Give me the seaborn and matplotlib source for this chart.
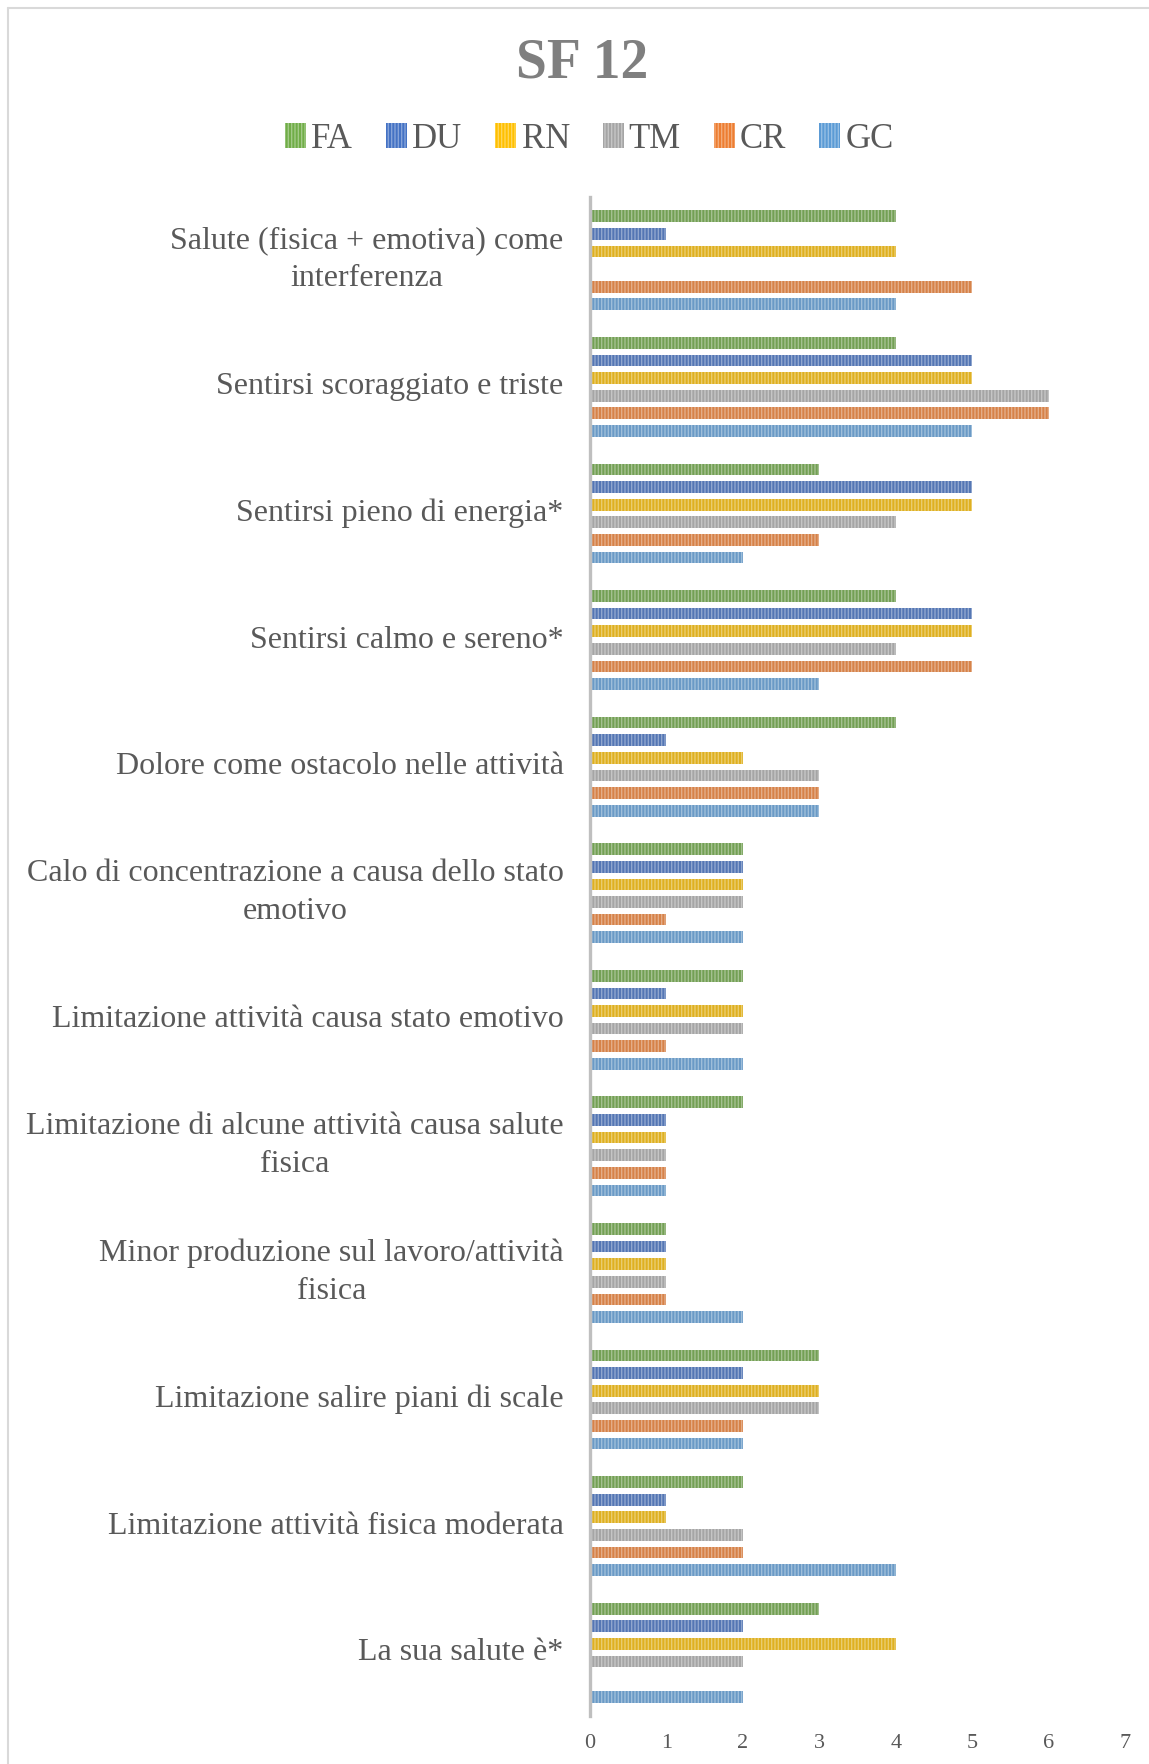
import matplotlib
matplotlib.use("Agg")
import matplotlib.pyplot as plt
import matplotlib.colors as mcolors
import matplotlib.transforms as mtransforms
from matplotlib.patches import Patch
from matplotlib.lines import Line2D
import seaborn as sns
import pandas as pd

categories = [
    "Salute (fisica + emotiva) come\ninterferenza",
    "Sentirsi scoraggiato e triste",
    "Sentirsi pieno di energia*",
    "Sentirsi calmo e sereno*",
    "Dolore come ostacolo nelle attività",
    "Calo di concentrazione a causa dello stato\nemotivo",
    "Limitazione attività causa stato emotivo",
    "Limitazione di alcune attività causa salute\nfisica",
    "Minor produzione sul lavoro/attività\nfisica",
    "Limitazione salire piani di scale",
    "Limitazione attività fisica moderata",
    "La sua salute è*",
]
series = ["FA", "DU", "RN", "TM", "CR", "GC"]
FA = [4, 4, 3, 4, 4, 2, 2, 2, 1, 3, 2, 3]
DU = [1, 5, 5, 5, 1, 2, 1, 1, 1, 2, 1, 2]
RN = [4, 5, 5, 5, 2, 2, 2, 1, 1, 3, 1, 4]
TM = [0, 6, 4, 4, 3, 2, 2, 1, 1, 3, 2, 2]
CR = [5, 6, 3, 5, 3, 1, 1, 1, 1, 2, 2, 0]
GC = [4, 5, 2, 3, 3, 2, 2, 1, 2, 2, 4, 2]
xticks = [0, 1, 2, 3, 4, 5, 6, 7]

colors = ["#70AD47", "#4472C4", "#FFC000", "#A5A5A5", "#ED7D31", "#5B9BD5"]
text_color = "#595959"

rows = []
for s, vals in zip(series, [FA, DU, RN, TM, CR, GC]):
    for c, v in zip(categories, vals):
        rows.append({"cat": c, "series": s, "val": v})
df = pd.DataFrame(rows)

sns.set_style("white")
plt.rcParams["font.family"] = ["Liberation Serif", "DejaVu Serif"]
plt.rcParams["hatch.linewidth"] = 1.0

fig = plt.figure(figsize=(11.49, 17.64), dpi=100)
ax = fig.add_axes([590 / 1149, 1 - 1716 / 1764, (1125 - 590) / 1149, (1716 - 197) / 1764])

sns.barplot(data=df, y="cat", x="val", hue="series", orient="h",
            order=categories, hue_order=series, palette=colors,
            width=0.835, gap=0.335, legend=False, ax=ax, errorbar=None)

def tint(c, f=0.35):
    r, g, b = mcolors.to_rgb(c)
    return (r + (1 - r) * f, g + (1 - g) * f, b + (1 - b) * f)

for p in ax.patches:
    fc = p.get_facecolor()
    p.set_hatch("|||||")
    p.set_edgecolor(tint(fc[:3]))
    p.set_linewidth(0)

ax.set_xlim(0, 7)
ax.set_ylim(len(categories) - 0.5, -0.5)
ax.set_xticks(xticks)
ax.set_xticklabels([str(t) for t in xticks], fontsize=16, color=text_color)
ax.set_xlabel("")
ax.set_ylabel("")
ax.tick_params(axis="both", length=0)
ax.tick_params(axis="y", pad=19, labelsize=23, labelcolor=text_color)
ax.tick_params(axis="x", pad=13)
for lbl in ax.get_yticklabels():
    lbl.set_multialignment("center")
    lbl.set_linespacing(1.4)
    shift = 9 if "\n" in lbl.get_text() else 3.5
    lbl.set_transform(lbl.get_transform() +
                      mtransforms.ScaledTranslation(0, shift / 100, fig.dpi_scale_trans))
for side in ["top", "right", "bottom"]:
    ax.spines[side].set_visible(False)
ax.spines["left"].set_color("#BFBFBF")
ax.spines["left"].set_linewidth(2.4)
ax.grid(False)

fig.text(0.5065, 1 - 63 / 1764, "SF 12", ha="center", va="center",
         fontsize=40, fontweight="bold", color="#7F7F7F")

handles = [Patch(facecolor=c, edgecolor=tint(c), hatch="|||||", linewidth=0) for c in colors]
fig.legend(handles, series, loc="center", bbox_to_anchor=(0.513, 1 - 139 / 1764),
           ncol=6, frameon=False, fontsize=25, handlelength=0.6, handleheight=0.7,
           handletextpad=0.15, columnspacing=0.95, labelcolor=text_color)

fig.add_artist(Line2D([8 / 1149, 8 / 1149], [0, 1 - 8 / 1764], transform=fig.transFigure,
                      color="#D9D9D9", linewidth=1.5))
fig.add_artist(Line2D([8 / 1149, 1], [1 - 8 / 1764, 1 - 8 / 1764], transform=fig.transFigure,
                      color="#D9D9D9", linewidth=1.5))

fig.savefig("out.png", dpi=100)
